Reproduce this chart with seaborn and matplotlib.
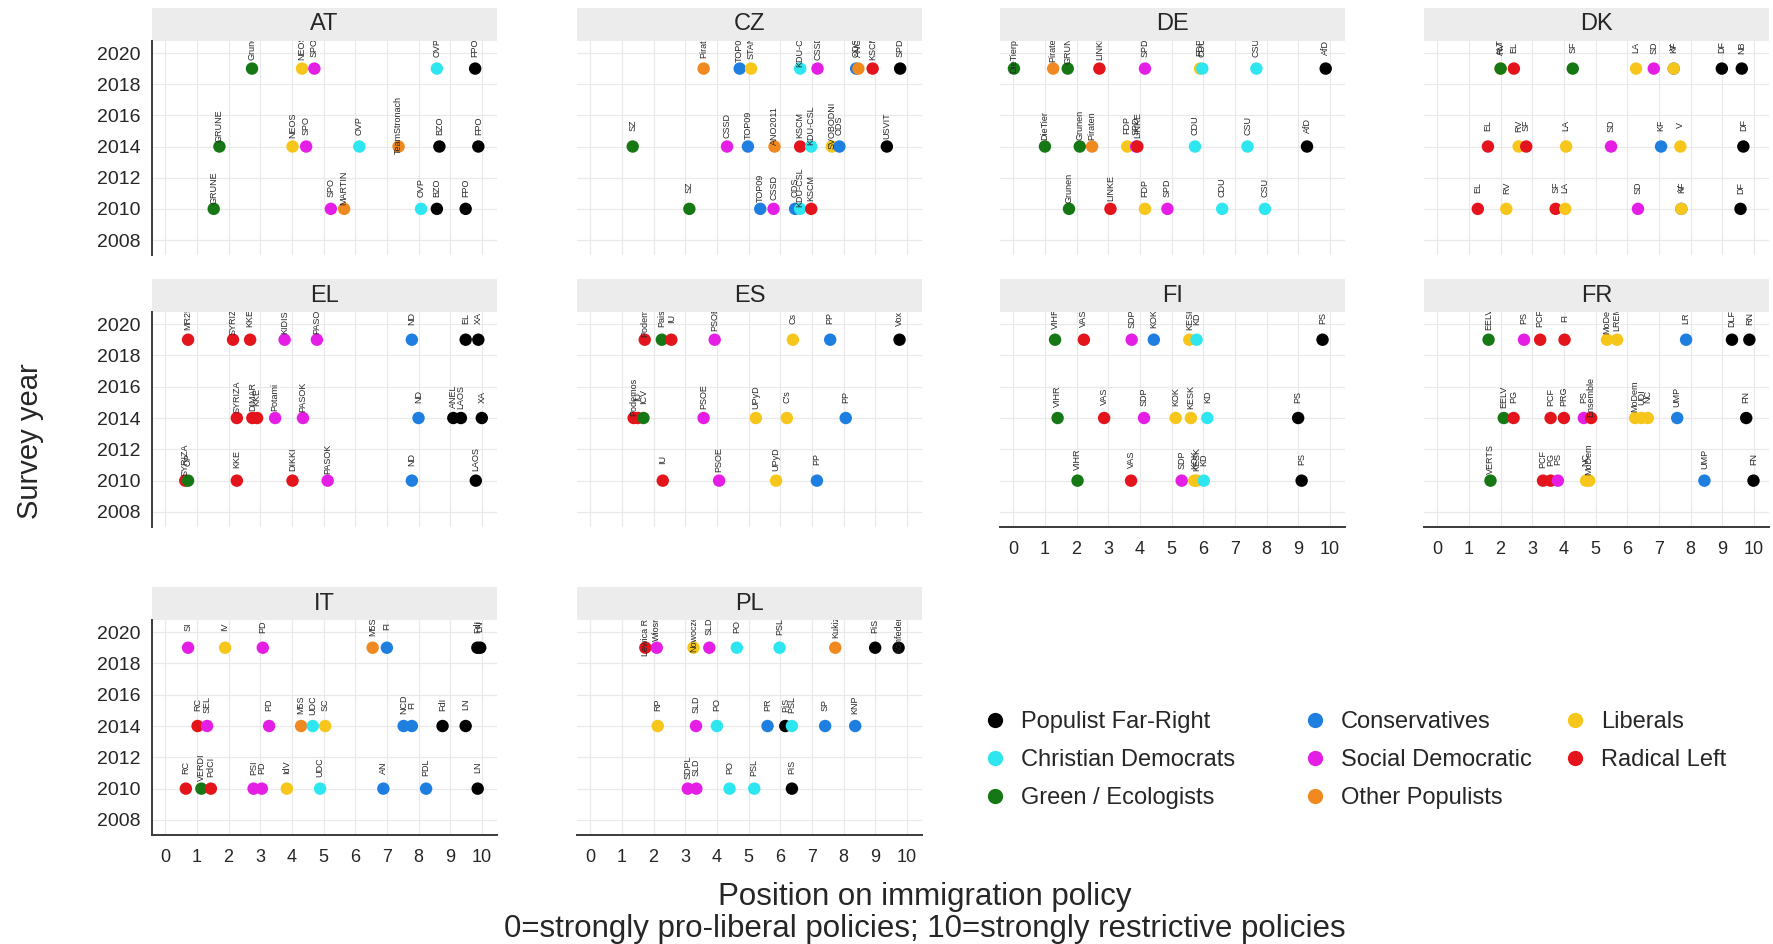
import pandas as pd
import matplotlib
matplotlib.use('Agg')
import matplotlib.pyplot as plt
from matplotlib.patches import Rectangle
from matplotlib.lines import Line2D
import seaborn as sns

sns.set_style('white')
plt.rcParams['font.family'] = ['Liberation Sans', 'DejaVu Sans']

# party families and colours
fam_codes = ['PFR', 'CD', 'GRN', 'CON', 'SD', 'OP', 'LIB', 'RL']
fam_names = ['Populist Far-Right', 'Christian Democrats', 'Green / Ecologists', 'Conservatives',
             'Social Democratic', 'Other Populists', 'Liberals', 'Radical Left']
fam_colors = ['#000000', '#2ee6ef', '#157815', '#1e7fe0', '#e51ee5', '#f0891f', '#f6c61a', '#e3141b']

countries = ['AT', 'CZ', 'DE', 'DK', 'EL', 'ES', 'FI', 'FR', 'IT', 'PL']

# ---- data: party, position, survey year, family ----
AT_party = ['Grune', 'NEOS', 'SPO', 'OVP', 'FPO',
            'GRUNE', 'NEOS', 'SPO', 'OVP', 'TeamStronach', 'BZO', 'FPO',
            'GRUNE', 'SPO', 'MARTIN', 'OVP', 'BZO', 'FPO']
AT_pos = [2.74, 4.32, 4.71, 8.58, 9.79,
          1.71, 4.02, 4.45, 6.13, 7.37, 8.66, 9.89,
          1.53, 5.23, 5.65, 8.08, 8.58, 9.49]
AT_year = [2019, 2019, 2019, 2019, 2019,
           2014, 2014, 2014, 2014, 2014, 2014, 2014,
           2010, 2010, 2010, 2010, 2010, 2010]
AT_fam = ['GRN', 'LIB', 'SD', 'CD', 'PFR',
          'GRN', 'LIB', 'SD', 'CD', 'OP', 'PFR', 'PFR',
          'GRN', 'SD', 'OP', 'CD', 'PFR', 'PFR']

CZ_party = ['Pirati', 'TOP09', 'STAN', 'KDU-CSL', 'CSSD', 'ODS', 'ANO', 'KSCM', 'SPD',
            'SZ', 'CSSD', 'TOP09', 'ANO2011', 'KSCM', 'KDU-CSL', 'SVOBODNI', 'ODS', 'USVIT',
            'SZ', 'TOP09', 'CSSD', 'ODS', 'KDU-CSL', 'KSCM']
CZ_pos = [3.58, 4.72, 5.08, 6.63, 7.18, 8.40, 8.47, 8.92, 9.79,
          1.34, 4.32, 4.98, 5.82, 6.63, 6.98, 7.63, 7.87, 9.37,
          3.13, 5.37, 5.79, 6.47, 6.63, 6.98]
CZ_year = [2019, 2019, 2019, 2019, 2019, 2019, 2019, 2019, 2019,
           2014, 2014, 2014, 2014, 2014, 2014, 2014, 2014, 2014,
           2010, 2010, 2010, 2010, 2010, 2010]
CZ_fam = ['OP', 'CON', 'LIB', 'CD', 'SD', 'CON', 'OP', 'RL', 'PFR',
          'GRN', 'SD', 'CON', 'OP', 'RL', 'CD', 'LIB', 'CON', 'PFR',
          'GRN', 'CON', 'SD', 'CON', 'CD', 'RL']

DE_party = ['DieTierpartei', 'Piraten', 'GRUNE', 'LINKE', 'SPD', 'FDP', 'CDU', 'CSU', 'AfD',
            'DieTier', 'Grunen', 'Piraten', 'FDP', 'SPD', 'LINKE', 'CDU', 'CSU', 'AfD',
            'Grunen', 'LINKE', 'FDP', 'SPD', 'CDU', 'CSU']
DE_pos = [0.02, 1.26, 1.72, 2.72, 4.16, 5.90, 5.97, 7.68, 9.87,
          1.00, 2.10, 2.49, 3.60, 3.88, 3.92, 5.74, 7.40, 9.28,
          1.76, 3.07, 4.16, 4.87, 6.60, 7.95]
DE_year = [2019, 2019, 2019, 2019, 2019, 2019, 2019, 2019, 2019,
           2014, 2014, 2014, 2014, 2014, 2014, 2014, 2014, 2014,
           2010, 2010, 2010, 2010, 2010, 2010]
DE_fam = ['GRN', 'OP', 'GRN', 'RL', 'SD', 'LIB', 'CD', 'CD', 'PFR',
          'GRN', 'GRN', 'OP', 'LIB', 'SD', 'RL', 'CD', 'CD', 'PFR',
          'GRN', 'RL', 'LIB', 'SD', 'CD', 'CD']

DK_party = ['RV', 'ALT', 'EL', 'SF', 'LA', 'SD', 'KF', 'V', 'DF', 'NB',
            'EL', 'RV', 'SF', 'LA', 'SD', 'KF', 'V', 'DF',
            'EL', 'RV', 'SF', 'LA', 'SD', 'KF', 'V', 'DF']
DK_pos = [2.00, 2.00, 2.42, 4.28, 6.28, 6.84, 7.47, 7.47, 8.99, 9.62,
          1.60, 2.57, 2.81, 4.07, 5.49, 7.07, 7.68, 9.67,
          1.28, 2.18, 3.74, 4.04, 6.34, 7.71, 7.71, 9.58]
DK_year = [2019, 2019, 2019, 2019, 2019, 2019, 2019, 2019, 2019, 2019,
           2014, 2014, 2014, 2014, 2014, 2014, 2014, 2014,
           2010, 2010, 2010, 2010, 2010, 2010, 2010, 2010]
DK_fam = ['LIB', 'GRN', 'RL', 'GRN', 'LIB', 'SD', 'CON', 'LIB', 'PFR', 'PFR',
          'RL', 'LIB', 'RL', 'LIB', 'SD', 'CON', 'LIB', 'PFR',
          'RL', 'LIB', 'RL', 'LIB', 'SD', 'CON', 'LIB', 'PFR']

EL_party = ['MR25', 'SYRIZA', 'KKE', 'KIDISO', 'PASOK', 'ND', 'EL', 'XA',
            'SYRIZA', 'DIMAR', 'KKE', 'Potami', 'PASOK', 'ND', 'ANEL', 'LAOS', 'XA',
            'SYRIZA', 'OP', 'KKE', 'DIKKI', 'PASOK', 'ND', 'LAOS']
EL_pos = [0.72, 2.14, 2.68, 3.77, 4.79, 7.79, 9.49, 9.89,
          2.26, 2.75, 2.90, 3.47, 4.35, 8.00, 9.10, 9.34, 10.00,
          0.63, 0.72, 2.26, 4.02, 5.13, 7.79, 9.81]
EL_year = [2019, 2019, 2019, 2019, 2019, 2019, 2019, 2019,
           2014, 2014, 2014, 2014, 2014, 2014, 2014, 2014, 2014,
           2010, 2010, 2010, 2010, 2010, 2010, 2010]
EL_fam = ['RL', 'RL', 'RL', 'SD', 'SD', 'CON', 'PFR', 'PFR',
          'RL', 'RL', 'RL', 'SD', 'SD', 'CON', 'PFR', 'PFR', 'PFR',
          'RL', 'GRN', 'RL', 'RL', 'SD', 'CON', 'PFR']

ES_party = ['Podemos', 'Pais', 'IU', 'PSOE', 'Cs', 'PP', 'Vox',
            'Podemos', 'IU', 'ICV', 'PSOE', 'UPyD', "C's", 'PP',
            'IU', 'PSOE', 'UPyD', 'PP']
ES_pos = [1.72, 2.26, 2.56, 3.93, 6.40, 7.58, 9.77,
          1.37, 1.50, 1.68, 3.58, 5.23, 6.21, 8.07,
          2.29, 4.07, 5.87, 7.16]
ES_year = [2019, 2019, 2019, 2019, 2019, 2019, 2019,
           2014, 2014, 2014, 2014, 2014, 2014, 2014,
           2010, 2010, 2010, 2010]
ES_fam = ['RL', 'GRN', 'RL', 'SD', 'LIB', 'CON', 'PFR',
          'RL', 'RL', 'GRN', 'SD', 'LIB', 'LIB', 'CON',
          'RL', 'SD', 'LIB', 'CON']

FI_party = ['VIHR', 'VAS', 'SDP', 'KOK', 'KESK', 'KD', 'PS',
            'VIHR', 'VAS', 'SDP', 'KOK', 'KESK', 'KD', 'PS',
            'VIHR', 'VAS', 'SDP', 'KOK', 'KESK', 'KD', 'PS']
FI_pos = [1.32, 2.23, 3.74, 4.44, 5.56, 5.79, 9.77,
          1.40, 2.87, 4.13, 5.13, 5.61, 6.13, 9.00,
          2.03, 3.72, 5.32, 5.72, 5.80, 6.02, 9.11]
FI_year = [2019, 2019, 2019, 2019, 2019, 2019, 2019,
           2014, 2014, 2014, 2014, 2014, 2014, 2014,
           2010, 2010, 2010, 2010, 2010, 2010, 2010]
FI_fam = ['GRN', 'RL', 'SD', 'CON', 'LIB', 'CD', 'PFR',
          'GRN', 'RL', 'SD', 'LIB', 'LIB', 'CD', 'PFR',
          'GRN', 'RL', 'SD', 'LIB', 'LIB', 'CD', 'PFR']

FR_party = ['EELV', 'PS', 'PCF', 'FI', 'MoDem', 'LREM', 'LR', 'DLF', 'RN',
            'EELV', 'PG', 'PCF', 'PRG', 'PS', 'Ensemble', 'MoDem', 'UDI', 'NC', 'UMP', 'FN',
            'VERTS', 'PCF', 'PG', 'PS', 'NC', 'MoDem', 'UMP', 'FN']
FR_pos = [1.62, 2.74, 3.25, 4.02, 5.36, 5.68, 7.86, 9.31, 9.86,
          2.10, 2.41, 3.58, 4.00, 4.63, 4.86, 6.25, 6.45, 6.65, 7.58, 9.76,
          1.68, 3.34, 3.58, 3.81, 4.70, 4.80, 8.44, 9.99]
FR_year = [2019, 2019, 2019, 2019, 2019, 2019, 2019, 2019, 2019,
           2014, 2014, 2014, 2014, 2014, 2014, 2014, 2014, 2014, 2014, 2014,
           2010, 2010, 2010, 2010, 2010, 2010, 2010, 2010]
FR_fam = ['GRN', 'SD', 'RL', 'RL', 'LIB', 'LIB', 'CON', 'PFR', 'PFR',
          'GRN', 'RL', 'RL', 'RL', 'SD', 'RL', 'LIB', 'LIB', 'LIB', 'CON', 'PFR',
          'GRN', 'RL', 'RL', 'SD', 'LIB', 'LIB', 'CON', 'PFR']

IT_party = ['SI', 'IV', 'PD', 'M5S', 'FI', 'FdI', 'LN',
            'RC', 'SEL', 'PD', 'M5S', 'UDC', 'SC', 'NCD', 'FI', 'FdI', 'LN',
            'RC', 'VERDI', 'PdCI', 'PSI', 'PD', 'IdV', 'UDC', 'AN', 'PDL', 'LN']
IT_pos = [0.72, 1.89, 3.08, 6.55, 7.00, 9.86, 9.95,
          1.02, 1.32, 3.28, 4.29, 4.66, 5.05, 7.53, 7.79, 8.76, 9.49,
          0.65, 1.14, 1.44, 2.79, 3.05, 3.84, 4.89, 6.89, 8.24, 9.87]
IT_year = [2019, 2019, 2019, 2019, 2019, 2019, 2019,
           2014, 2014, 2014, 2014, 2014, 2014, 2014, 2014, 2014, 2014,
           2010, 2010, 2010, 2010, 2010, 2010, 2010, 2010, 2010, 2010]
IT_fam = ['SD', 'LIB', 'SD', 'OP', 'CON', 'PFR', 'PFR',
          'RL', 'SD', 'SD', 'OP', 'CD', 'LIB', 'CON', 'CON', 'PFR', 'PFR',
          'RL', 'GRN', 'RL', 'SD', 'SD', 'LIB', 'CD', 'CON', 'CON', 'PFR']

PL_party = ['Lewica Razem', 'Wiosna', 'Nowoczesna', 'SLD', 'PO', 'PSL', 'Kukiz', 'PiS', 'Konfederacja',
            'RP', 'SLD', 'PO', 'PR', 'PiS', 'PSL', 'SP', 'KNP',
            'SDPL', 'SLD', 'PO', 'PSL', 'PiS']
PL_pos = [1.74, 2.10, 3.26, 3.76, 4.63, 5.98, 7.74, 9.00, 9.74,
          2.13, 3.34, 4.00, 5.60, 6.16, 6.37, 7.42, 8.37,
          3.08, 3.35, 4.40, 5.18, 6.37]
PL_year = [2019, 2019, 2019, 2019, 2019, 2019, 2019, 2019, 2019,
           2014, 2014, 2014, 2014, 2014, 2014, 2014, 2014,
           2010, 2010, 2010, 2010, 2010]
PL_fam = ['RL', 'SD', 'LIB', 'SD', 'CD', 'CD', 'OP', 'PFR', 'PFR',
          'LIB', 'SD', 'CD', 'CON', 'PFR', 'CD', 'CON', 'CON',
          'SD', 'SD', 'CD', 'CD', 'PFR']

# build one long table
frames = []
for c in countries:
    d = globals()
    frames.append(pd.DataFrame({'country': c, 'party': d[c + '_party'], 'pos': d[c + '_pos'],
                                'year': d[c + '_year'], 'fam': d[c + '_fam']}))
df = pd.concat(frames, ignore_index=True)
df['family'] = df['fam'].map(dict(zip(fam_codes, fam_names)))
palette = dict(zip(fam_names, fam_colors))

# layout in pixels
W, H = 1773, 944
fig = plt.figure(figsize=(W / 100, H / 100), dpi=100)
col_left = [152, 577, 1000, 1424]
panel_w = 345
row_top = [41, 312, 620]
row_bot = [255, 527, 835]
strip_h = 33
bottom_panels = ['FI', 'FR', 'IT', 'PL']
axis_col = '#3a3a3a'

for i, c in enumerate(countries):
    r, k = divmod(i, 4)
    ph = row_bot[r] - row_top[r]
    ax = fig.add_axes([col_left[k] / W, 1 - row_bot[r] / H, panel_w / W, ph / H])
    sub = df[df['country'] == c]
    sns.scatterplot(data=sub, x='pos', y='year', hue='family', palette=palette,
                    s=80, linewidth=0, legend=False, ax=ax, zorder=3)
    for _, row in sub.iterrows():
        ax.text(row['pos'], row['year'] + 1.36, row['party'], rotation=90,
                ha='center', va='center', fontsize=6.5, clip_on=True, zorder=4)

    ax.set_xlim(-0.42, 10.48)
    ax.set_ylim(2007.04, 2020.77)
    ax.set_xticks(range(0, 11))
    ax.set_yticks(range(2008, 2021, 2))
    ax.grid(True, color='#e9e9e9', linewidth=0.9, zorder=0)
    ax.set_axisbelow(True)
    ax.set_xlabel('')
    ax.set_ylabel('')
    for s in ax.spines.values():
        s.set_visible(False)
    ax.tick_params(axis='both', length=0, labelleft=False, labelbottom=False)

    if k == 0:
        ax.spines['left'].set_visible(True)
        ax.spines['left'].set_color(axis_col)
        ax.spines['left'].set_linewidth(1.4)
        ax.tick_params(axis='y', length=6, width=1.2, color=axis_col, labelleft=True,
                       labelsize=14, pad=2)
    if c in bottom_panels:
        ax.spines['bottom'].set_visible(True)
        ax.spines['bottom'].set_color(axis_col)
        ax.spines['bottom'].set_linewidth(1.4)
        ax.tick_params(axis='x', length=6, width=1.2, color=axis_col, labelbottom=True,
                       labelsize=13, pad=4)

    # facet strip
    ax.add_patch(Rectangle((0, 1), 1, strip_h / ph, transform=ax.transAxes,
                           facecolor='#ececec', edgecolor='none', clip_on=False))
    ax.text(0.5, 1 + strip_h / 2 / ph, c, transform=ax.transAxes, ha='center',
            va='center', fontsize=17)

fig.text(30 / W, 1 - 441 / H, 'Survey year', rotation=90, ha='center', va='center', fontsize=21)
fig.text(925 / W, 1 - 913 / H,
         'Position on immigration policy\n0=strongly pro-liberal policies; 10=strongly restrictive policies',
         ha='center', va='center', fontsize=22.5, linespacing=1.05)

# legend: three columns placed separately
leg_fs = 17
fs_px = leg_fs * 100 / 72
leg_cols = [[0, 1, 2], [3, 4, 5], [6, 7]]
marker_x = [995, 1315, 1575]
for idx, mx in zip(leg_cols, marker_x):
    hs = [Line2D([], [], marker='o', linestyle='', markersize=11, markeredgewidth=0,
                 color=fam_colors[j]) for j in idx]
    fig.legend(hs, [fam_names[j] for j in idx], loc='upper left',
               bbox_to_anchor=((mx - 0.5 * fs_px) / W, 1 - 711 / H), frameon=False,
               fontsize=leg_fs, handlelength=1.0, handletextpad=0.6, labelspacing=0.68,
               borderpad=0, borderaxespad=0)

plt.savefig('out.png', dpi=100)
